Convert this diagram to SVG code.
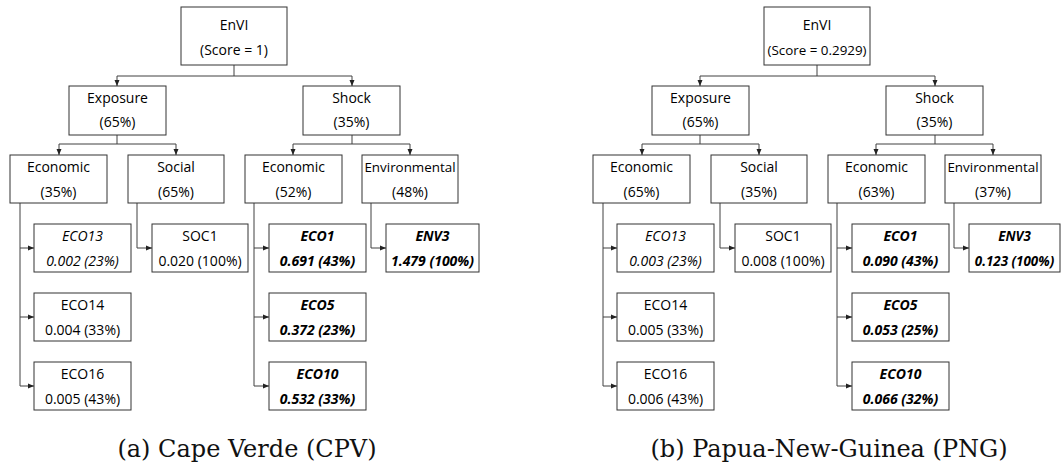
<svg xmlns="http://www.w3.org/2000/svg" width="1061" height="465" viewBox="0 0 1061 465">
<style>
.box{fill:#fff;stroke:#333;stroke-width:1}
.t{font-family:"Open Sans","Liberation Sans",sans-serif;font-size:14px;fill:#000;text-anchor:middle}
.s{font-size:13.4px}
.i{font-style:italic}
.bi{font-style:italic;font-weight:bold}
.c{fill:none;stroke:#404040;stroke-width:1}
.cap{font-family:"DejaVu Serif",serif;font-size:24px;fill:#111;text-anchor:middle}
</style>
<defs>
<marker id="ah" viewBox="0 0 6 6" refX="6" refY="3" markerWidth="6" markerHeight="6" markerUnits="userSpaceOnUse" orient="auto">
<path d="M0,0.5 L6,3 L0,5.5 Z" fill="#222"/>
</marker>
</defs>
<g id="treeA">
<g id="connectorsA">
<path class="c" d="M234,65 V76 H117 V86" marker-end="url(#ah)"/>
<path class="c" d="M234,76 H352 V86" marker-end="url(#ah)"/>
<path class="c" d="M117,135 V144 H59 V155" marker-end="url(#ah)"/>
<path class="c" d="M117,144 H176 V155" marker-end="url(#ah)"/>
<path class="c" d="M352,135 V144 H293 V155" marker-end="url(#ah)"/>
<path class="c" d="M352,144 H410 V155" marker-end="url(#ah)"/>
<path class="c" d="M20,203 V248 H34" marker-end="url(#ah)"/>
<path class="c" d="M20,248 V317 H34" marker-end="url(#ah)"/>
<path class="c" d="M20,317 V386 H34" marker-end="url(#ah)"/>
<path class="c" d="M137,203 V248 H152" marker-end="url(#ah)"/>
<path class="c" d="M254,203 V248 H269" marker-end="url(#ah)"/>
<path class="c" d="M254,248 V317 H269" marker-end="url(#ah)"/>
<path class="c" d="M254,317 V386 H269" marker-end="url(#ah)"/>
<path class="c" d="M371,203 V248 H386" marker-end="url(#ah)"/>
</g>
<g id="a-envi"><rect class="box" x="181" y="7" width="106" height="58"/><text class="t" x="234" y="30">EnVI</text><text class="t" x="234" y="55">(Score = 1)</text></g>
<g id="a-exposure"><rect class="box" x="69" y="86" width="97" height="49"/><text class="t" x="117.5" y="103">Exposure</text><text class="t" x="117.5" y="127">(65%)</text></g>
<g id="a-shock"><rect class="box" x="303" y="86" width="97" height="49"/><text class="t" x="351.5" y="103">Shock</text><text class="t" x="351.5" y="127">(35%)</text></g>
<g id="a-exp-econ"><rect class="box" x="10" y="155" width="97" height="48"/><text class="t" x="58.5" y="172">Economic</text><text class="t" x="58.5" y="197">(35%)</text></g>
<g id="a-social"><rect class="box" x="128" y="155" width="96" height="48"/><text class="t" x="176" y="172">Social</text><text class="t" x="176" y="197">(65%)</text></g>
<g id="a-shk-econ"><rect class="box" x="245" y="155" width="97" height="48"/><text class="t" x="293.5" y="172">Economic</text><text class="t" x="293.5" y="197">(52%)</text></g>
<g id="a-env"><rect class="box" x="362" y="155" width="96" height="48"/><text class="t s" x="410" y="172">Environmental</text><text class="t" x="410" y="197">(48%)</text></g>
<g id="a-eco13"><rect class="box" x="34" y="224" width="97" height="48"/><text class="t i" x="82.5" y="241">ECO13</text><text class="t i" x="82.5" y="266">0.002 (23%)</text></g>
<g id="a-eco14"><rect class="box" x="34" y="293" width="97" height="48"/><text class="t" x="82.5" y="310">ECO14</text><text class="t" x="82.5" y="335">0.004 (33%)</text></g>
<g id="a-eco16"><rect class="box" x="34" y="362" width="97" height="48"/><text class="t" x="82.5" y="379">ECO16</text><text class="t" x="82.5" y="404">0.005 (43%)</text></g>
<g id="a-soc1"><rect class="box" x="152" y="224" width="96" height="48"/><text class="t" x="200" y="241">SOC1</text><text class="t" x="200" y="266">0.020 (100%)</text></g>
<g id="a-eco1"><rect class="box" x="269" y="224" width="97" height="48"/><text class="t bi" x="317.5" y="241">ECO1</text><text class="t bi" x="317.5" y="266">0.691 (43%)</text></g>
<g id="a-eco5"><rect class="box" x="269" y="293" width="97" height="48"/><text class="t bi" x="317.5" y="310">ECO5</text><text class="t bi" x="317.5" y="335">0.372 (23%)</text></g>
<g id="a-eco10"><rect class="box" x="269" y="362" width="97" height="48"/><text class="t bi" x="317.5" y="379">ECO10</text><text class="t bi" x="317.5" y="404">0.532 (33%)</text></g>
<g id="a-env3"><rect class="box" x="386" y="224" width="93" height="48"/><text class="t bi" x="432.5" y="241">ENV3</text><text class="t bi" x="432.5" y="266">1.479 (100%)</text></g>
<text class="cap" x="247" y="457">(a) Cape Verde (CPV)</text>
</g>
<g id="treeB" transform="translate(583,0)">
<g id="connectorsB">
<path class="c" d="M234,65 V76 H117 V86" marker-end="url(#ah)"/>
<path class="c" d="M234,76 H352 V86" marker-end="url(#ah)"/>
<path class="c" d="M117,135 V144 H59 V155" marker-end="url(#ah)"/>
<path class="c" d="M117,144 H176 V155" marker-end="url(#ah)"/>
<path class="c" d="M352,135 V144 H293 V155" marker-end="url(#ah)"/>
<path class="c" d="M352,144 H410 V155" marker-end="url(#ah)"/>
<path class="c" d="M20,203 V248 H34" marker-end="url(#ah)"/>
<path class="c" d="M20,248 V317 H34" marker-end="url(#ah)"/>
<path class="c" d="M20,317 V386 H34" marker-end="url(#ah)"/>
<path class="c" d="M137,203 V248 H152" marker-end="url(#ah)"/>
<path class="c" d="M254,203 V248 H269" marker-end="url(#ah)"/>
<path class="c" d="M254,248 V317 H269" marker-end="url(#ah)"/>
<path class="c" d="M254,317 V386 H269" marker-end="url(#ah)"/>
<path class="c" d="M371,203 V248 H386" marker-end="url(#ah)"/>
</g>
<g id="b-envi"><rect class="box" x="181" y="7" width="106" height="58"/><text class="t" x="234" y="30">EnVI</text><text class="t s" x="234" y="55">(Score = 0.2929)</text></g>
<g id="b-exposure"><rect class="box" x="69" y="86" width="97" height="49"/><text class="t" x="117.5" y="103">Exposure</text><text class="t" x="117.5" y="127">(65%)</text></g>
<g id="b-shock"><rect class="box" x="303" y="86" width="97" height="49"/><text class="t" x="351.5" y="103">Shock</text><text class="t" x="351.5" y="127">(35%)</text></g>
<g id="b-exp-econ"><rect class="box" x="10" y="155" width="97" height="48"/><text class="t" x="58.5" y="172">Economic</text><text class="t" x="58.5" y="197">(65%)</text></g>
<g id="b-social"><rect class="box" x="128" y="155" width="96" height="48"/><text class="t" x="176" y="172">Social</text><text class="t" x="176" y="197">(35%)</text></g>
<g id="b-shk-econ"><rect class="box" x="245" y="155" width="97" height="48"/><text class="t" x="293.5" y="172">Economic</text><text class="t" x="293.5" y="197">(63%)</text></g>
<g id="b-env"><rect class="box" x="362" y="155" width="96" height="48"/><text class="t s" x="410" y="172">Environmental</text><text class="t" x="410" y="197">(37%)</text></g>
<g id="b-eco13"><rect class="box" x="34" y="224" width="97" height="48"/><text class="t i" x="82.5" y="241">ECO13</text><text class="t i" x="82.5" y="266">0.003 (23%)</text></g>
<g id="b-eco14"><rect class="box" x="34" y="293" width="97" height="48"/><text class="t" x="82.5" y="310">ECO14</text><text class="t" x="82.5" y="335">0.005 (33%)</text></g>
<g id="b-eco16"><rect class="box" x="34" y="362" width="97" height="48"/><text class="t" x="82.5" y="379">ECO16</text><text class="t" x="82.5" y="404">0.006 (43%)</text></g>
<g id="b-soc1"><rect class="box" x="152" y="224" width="96" height="48"/><text class="t" x="200" y="241">SOC1</text><text class="t" x="200" y="266">0.008 (100%)</text></g>
<g id="b-eco1"><rect class="box" x="269" y="224" width="97" height="48"/><text class="t bi" x="317.5" y="241">ECO1</text><text class="t bi" x="317.5" y="266">0.090 (43%)</text></g>
<g id="b-eco5"><rect class="box" x="269" y="293" width="97" height="48"/><text class="t bi" x="317.5" y="310">ECO5</text><text class="t bi" x="317.5" y="335">0.053 (25%)</text></g>
<g id="b-eco10"><rect class="box" x="269" y="362" width="97" height="48"/><text class="t bi" x="317.5" y="379">ECO10</text><text class="t bi" x="317.5" y="404">0.066 (32%)</text></g>
<g id="b-env3"><rect class="box" x="386" y="224" width="91" height="48"/><text class="t bi s" x="431.5" y="241">ENV3</text><text class="t bi s" x="431.5" y="266">0.123 (100%)</text></g>
<text class="cap" x="246" y="457">(b) Papua-New-Guinea (PNG)</text>
</g>
</svg>
